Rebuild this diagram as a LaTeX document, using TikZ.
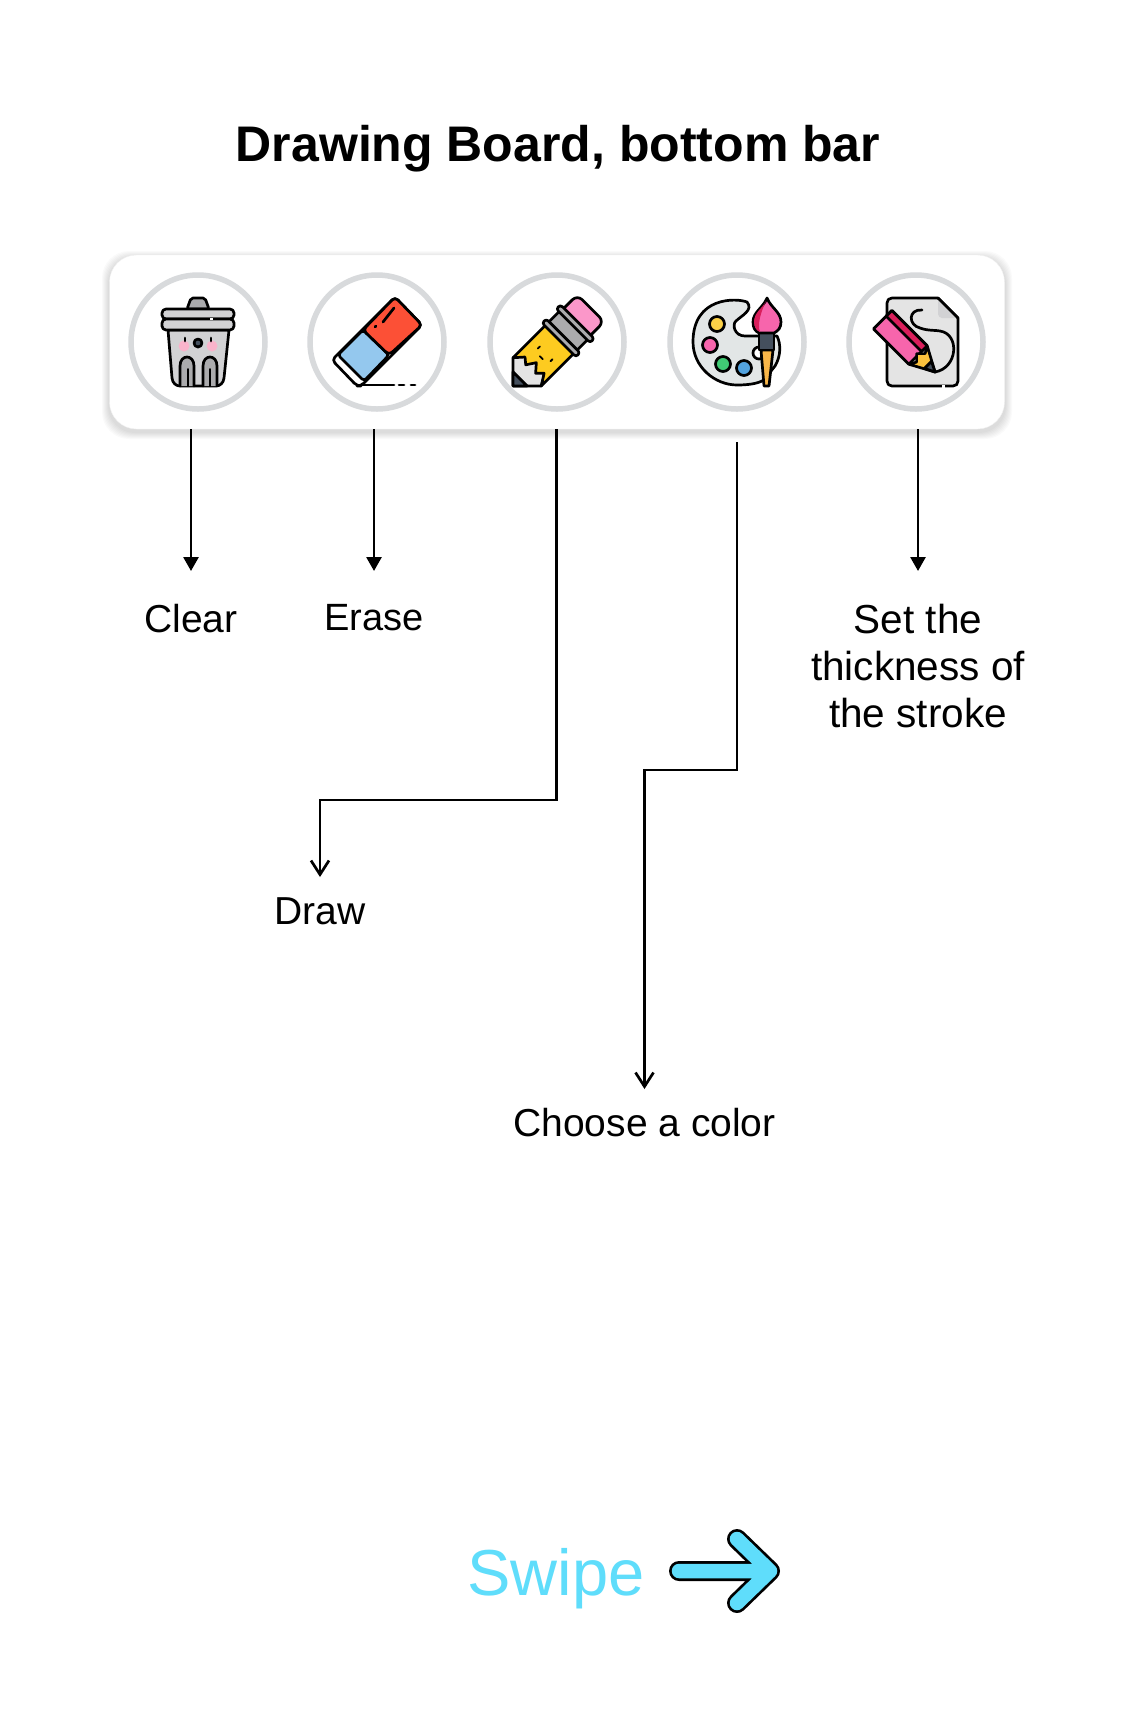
\documentclass[tikz,border=0pt]{standalone}
\usepackage{fontspec}
\setmainfont{Liberation Sans}
\usetikzlibrary{arrows.meta}
\definecolor{ringgrey}{HTML}{D8DADC}
\definecolor{swipeblue}{HTML}{5FDDFB}
\definecolor{binlight}{HTML}{D2D2D4}
\definecolor{bindark}{HTML}{ABABAD}
\definecolor{blush}{HTML}{F9B4CB}
\definecolor{rubred}{HTML}{FC5036}
\definecolor{rubblue}{HTML}{94C8EE}
\definecolor{pencilyellow}{HTML}{FDCB20}
\definecolor{rubpink}{HTML}{FB97C9}
\definecolor{brushpink}{HTML}{F765AC}
\definecolor{brushdark}{HTML}{D91E5B}
\definecolor{palettegrey}{HTML}{E2E6E6}
\definecolor{slate}{HTML}{444F5D}
\definecolor{handle}{HTML}{F9B648}
\definecolor{pagegrey}{HTML}{E4E4E4}
\tikzset{
    barbox/.style={draw=black!6, fill=white, rounded corners=27pt, minimum width=895pt, minimum height=174pt, inner sep=0pt},
    btn/.style={circle, draw=ringgrey, line width=5.5pt, fill=white, minimum size=134pt, inner sep=0pt},
    lbl/.style={anchor=north, align=center, inner xsep=0pt, inner ysep=33pt, font=\fontsize{39}{47}\selectfont},
    solidarrow/.style={line width=2.7pt, -{Triangle[length=14pt,width=15pt]}},
    openarrow/.style={line width=2.7pt, -{Straight Barb[length=14pt,width=18pt]}},
    icon/.style={draw=black, line width=2.7pt, line join=round, line cap=round},
}
\begin{document}
\begin{tikzpicture}[x=1pt, y=-1pt]
    \fill[white] (0,0) rectangle (1144,1725);
    \useasboundingbox (0,0) rectangle (1144,1725);

    \node[anchor=base, font=\fontsize{50}{60}\selectfont\bfseries] (title) at (558,161) {Drawing Board, bottom bar};

    \foreach \s in {1,...,7}
        \fill[black, opacity=.02, rounded corners=27pt] (109-\s,258-\s) rectangle (1005+\s,432+\s);
    \node[barbox] (bar) at (557,342) {};

    \node[btn] (trashbtn) at (198,342) {};
    \node[btn] (eraserbtn) at (377,342) {};
    \node[btn] (pencilbtn) at (557,342) {};
    \node[btn] (palettebtn) at (737,342) {};
    \node[btn] (strokebtn) at (916,342) {};

    \begin{scope}[shift={(trashbtn.center)}]
        \filldraw[icon, fill=bindark, rounded corners=2pt] (-11,-33) -- (-7,-44) -- (7,-44) -- (11,-33) -- cycle;
        \filldraw[icon, fill=binlight] (-30,-12) -- (-26,36) .. controls (-25.5,41) and (-22,44) .. (-18,44) -- (18,44) .. controls (22,44) and (25.5,41) .. (26,36) -- (31,-12) -- cycle;
        \filldraw[icon, fill=binlight, rounded corners=4pt] (-36,-33) rectangle (36,-23);
        \filldraw[icon, fill=binlight, rounded corners=4pt] (-36,-23) rectangle (36,-12);
        \draw[white, line width=2.8pt] (12,-23) -- (15,-23);
        \filldraw[icon, fill=bindark] (-18,44) -- (-18,24) .. controls (-18,12) and (-4,12) .. (-4,24) -- (-4,44);
        \filldraw[icon, fill=bindark] (5,44) -- (5,24) .. controls (5,12) and (19,12) .. (19,24) -- (19,44);
        \draw[icon, line width=2pt] (-10,27) -- (-10,44);
        \draw[icon, line width=2pt] (12,27) -- (12,44);
        \fill[blush] (-14,4) circle (5.5);
        \fill[blush] (14,4) circle (5.5);
        \draw[icon] (-13,-4) -- (-13,-1);
        \draw[icon] (13,-4) -- (13,-1);
        \filldraw[icon, fill=slate] (0,1) circle (4);
    \end{scope}

    \begin{scope}[shift={(eraserbtn.center)}]
        \filldraw[icon, fill=white, rounded corners=4pt] (18,-45) -- (45,-17) -- (-16,44) -- (-20,44) -- (-45,18) -- cycle;
        \filldraw[icon, fill=rubblue, rounded corners=3pt] (-14,-12) -- (12,13) -- (-13,39) -- (-39,13) -- cycle;
        \filldraw[icon, fill=rubred, rounded corners=4pt] (18,-45) -- (45,-17) -- (12,13) -- (-14,-12) -- cycle;
        \draw[icon] (6,-20) -- (17,-34);
        \draw[icon] (-2,-15) -- (-1,-16);
        \draw[icon] (-17,43) -- (17,43);
        \draw[icon] (22,43) -- (27,43);
        \draw[icon] (34,43) -- (38,43);
    \end{scope}

    \begin{scope}[shift={(pencilbtn.center)}, shift={(-44,44)}, rotate=45]
        \filldraw[icon, fill=pagegrey] (0,0) -- (20,-20) -- (34,-12) -- (34,12) -- (20,20) -- cycle;
        \filldraw[icon, fill=slate] (0,0) -- (10,-10) -- (10,10) -- cycle;
        \filldraw[icon, fill=pencilyellow] (20,-20) -- (29,-12) -- (24,-6) -- (33,0) -- (25,7) -- (31,13) -- (20,20) -- (66,20) -- (66,-20) -- cycle;
        \filldraw[icon, fill=rubpink, rounded corners=7pt] (80,-19) -- (110,-19) -- (110,19) -- (80,19) -- cycle;
        \filldraw[icon, fill=bindark] (70,-20) rectangle (86,20);
        \filldraw[icon, fill=bindark, rounded corners=3pt] (65,-24) rectangle (71,24);
        \filldraw[icon, fill=bindark, rounded corners=3pt] (85,-24) rectangle (91,24);
        \draw[icon, line width=1.8pt] (44,-9) -- (47,-9);
        \draw[icon, line width=1.8pt] (44,9) -- (47,9);
        \draw[icon, line width=1.8pt] (40,-2) -- (40,2);
    \end{scope}

    \begin{scope}[shift={(palettebtn.center)}]
        \filldraw[icon, fill=palettegrey] (10,-40) .. controls (0,-44) and (-44,-46) .. (-44,0) .. controls (-44,25) and (-22,43) .. (0,43) .. controls (10,43) and (20,42) .. (27,38) -- (38,24) .. controls (44,14) and (44,2) .. (40,-6) -- (8,-6) .. controls (-3,-6) and (-5,-18) .. (-1,-21) .. controls (4,-26) and (17,-32) .. (10,-40) -- cycle;
        \filldraw[icon, fill=white] (22,11) circle (6);
        \filldraw[icon, fill=handle!70!yellow!90!white] (-20,-18) circle (7.5);
        \filldraw[icon, fill=brushpink] (-27,3) circle (7.5);
        \filldraw[icon, fill=green!45!teal!75!white] (-14,22) circle (7.5);
        \filldraw[icon, fill=cyan!70!blue!70!white] (7,26) circle (7.5);
        \filldraw[icon, fill=handle] (24,8) -- (36,8) -- (32,44) -- (27,44) -- cycle;
        \filldraw[icon, fill=slate] (22,-9) rectangle (37,8);
        \filldraw[icon, fill=brushpink] (30,-44) .. controls (34,-34) and (44,-30) .. (44,-20) .. controls (44,-14) and (41,-11) .. (37,-9) -- (22,-9) .. controls (18,-11) and (16,-14) .. (16,-20) .. controls (16,-30) and (26,-34) .. (30,-44) -- cycle;
        \fill[brushdark] (29,-41) .. controls (26,-34) and (17,-30) .. (17,-20) .. controls (17,-15) and (20,-11) .. (23,-10) .. controls (20,-18) and (24,-30) .. (29,-41) -- cycle;
    \end{scope}

    \begin{scope}[shift={(strokebtn.center)}]
        \filldraw[icon, fill=pagegrey] (22,-44) -- (-24,-44) .. controls (-27,-44) and (-29,-42) .. (-29,-39) -- (-29,39) .. controls (-29,42) and (-27,44) .. (-24,44) -- (37,44) .. controls (40,44) and (42,42) .. (42,39) -- (42,-24) -- cycle;
        \filldraw[draw=none, fill=binlight] (22,-44) -- (42,-24) -- (26,-24) .. controls (24,-24) and (22,-26) .. (22,-28) -- cycle;
        \draw[icon] (22,-44) -- (42,-24);
        \draw[white, line width=3pt] (26,44) -- (29,44);
        \draw[icon] (6,-32) .. controls (-8,-33) and (-8,-17) .. (4,-14) .. controls (12,-11) and (20,-12) .. (24,-11) .. controls (44,-8) and (42,26) .. (19,30);
        \begin{scope}[shift={(19,30)}, rotate=135]
            \filldraw[icon, fill=brushpink] (24,-13) -- (74,-13) -- (74,13) -- (24,13) -- cycle;
            \filldraw[icon, fill=brushdark] (24,5) -- (74,5) -- (74,13) -- (24,13) -- cycle;
            \filldraw[icon, fill=handle!85!yellow] (0,0) -- (24,-13) -- (20,-6) -- (26,0) -- (20,6) -- (24,13) -- cycle;
            \filldraw[icon, fill=slate] (0,0) -- (10,-5) -- (10,5) -- cycle;
        \end{scope}
    \end{scope}

    \node[lbl] (clear) at (191,571) {Clear};
    \node[lbl, font=\fontsize{38}{47}\selectfont] (erase) at (374,571) {Erase};
    \node[lbl, font=\fontsize{40.5}{47}\selectfont] (thickness) at (918,571) {Set the\\thickness of\\the stroke};
    \node[lbl, inner ysep=20pt] (drawlbl) at (320,877) {Draw};
    \node[lbl, inner ysep=19pt] (colorlbl) at (644.5,1089) {Choose a color};

    \draw[solidarrow] (bar.south -| clear.north) -- (clear.north);
    \draw[solidarrow] (bar.south -| erase.north) -- (erase.north);
    \draw[solidarrow] (bar.south -| thickness.north) -- (thickness.north);

    \coordinate (drawbend) at (320,800);
    \draw[openarrow] (bar.south -| pencilbtn) ++(-.7,0) |- (drawbend) -- (drawlbl.north);

    \coordinate (colorstart) at (737,442);
    \coordinate (colorbend) at (644.5,770);
    \draw[openarrow] (colorstart) |- (colorbend) -- (colorlbl.north);

    \node[anchor=base, text=swipeblue, font=\fontsize{65}{70}\selectfont] (swipe) at (556,1595) {Swipe};
    \draw[line width=20pt, line cap=round, line join=round] (679,1571) -- (770,1571) (737,1539) -- (770,1571) -- (737,1603);
    \draw[swipeblue, line width=14.5pt, line cap=round, line join=round] (679,1571) -- (770,1571) (737,1539) -- (770,1571) -- (737,1603);
\end{tikzpicture}
\end{document}
